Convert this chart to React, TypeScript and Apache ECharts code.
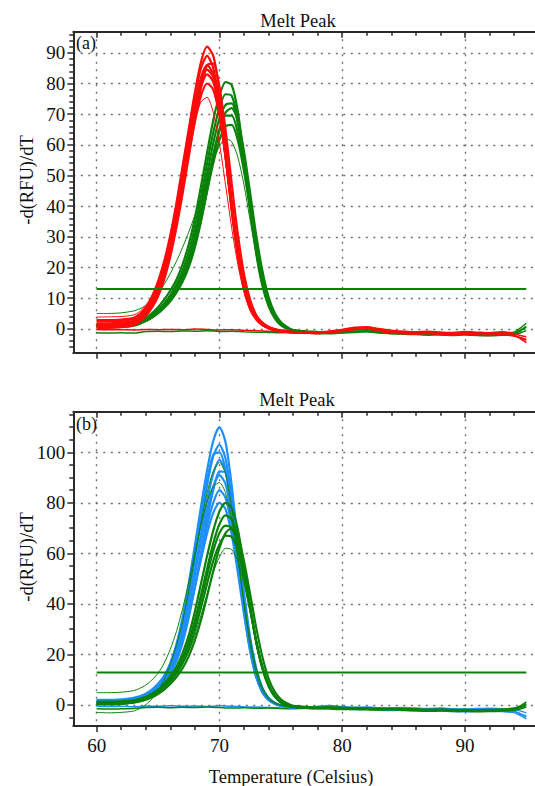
import React, { useEffect, useRef } from "react";
import * as echarts from "echarts";

// ---------- data ----------
const X_PEAK = [60, 61, 62, 63, 63.5, 64, 64.5, 65, 65.5, 66, 66.5, 67, 67.5, 68, 68.5, 69, 69.5, 70, 70.5, 71, 71.5, 72, 72.5, 73, 73.5, 74, 74.5, 75, 75.5, 76, 77];
const X_TAIL = [76, 77, 78, 79, 80, 81, 82, 83, 84, 85, 86, 87, 88, 89, 90, 91, 92, 93, 94, 94.5, 95];
const X_FLAT = [60, 61, 62, 63, 64, 65, 66, 67, 68, 69, 70, 71, 72, 73, 74, 75, 76, 77, 78, 79, 80, 81, 82, 83, 84, 85, 86, 87, 88, 89, 90, 91, 92, 93, 94, 95];
const X_THRESH = [60, 95];

const X_TICKS = [60, 70, 80, 90];
const Y_TICKS_A = [0, 10, 20, 30, 40, 50, 60, 70, 80, 90];
const Y_TICKS_B = [0, 20, 40, 60, 80, 100];

// panel (a) red peaks
const A_RED_1 = [2.5, 2.5, 2.6, 3.2, 4.5, 7, 10.5, 15.5, 22, 30.5, 41, 53, 65, 77, 87, 92, 89, 78, 61, 42, 26, 14, 7, 3.5, 1.5, 0.5, -0.2, -0.6, -0.8, -1, -1.1];
const A_RED_2 = [1.8, 1.8, 2, 2.6, 3.8, 6, 9.5, 14.5, 21, 29.5, 40, 52, 64, 76, 85, 89, 85, 74, 57, 39, 24, 13, 6.5, 3, 1.2, 0.3, -0.3, -0.7, -0.9, -1.1, -1.2];
const A_RED_3 = [1.2, 1.2, 1.4, 2, 3.2, 5.3, 8.5, 13, 19.5, 28, 38, 50, 62, 73, 82, 86, 83, 72, 56, 38.5, 24, 13.5, 7, 3.2, 1.3, 0.3, -0.4, -0.8, -1, -1.1, -1.3];
const A_RED_4 = [2.8, 2.8, 3, 3.6, 4.8, 6.8, 10, 14.5, 20.5, 28.5, 38, 49, 60, 70.5, 79, 83, 80.5, 71, 56.5, 40, 25.5, 14.5, 7.5, 3.5, 1.5, 0.4, -0.3, -0.7, -1, -1.2, -1.3];
const A_RED_5 = [0.8, 0.8, 1, 1.6, 2.8, 4.8, 7.8, 12, 18, 26, 35.5, 46, 57, 67.5, 76, 80, 78, 69.5, 56, 40.5, 26.5, 15.5, 8, 4, 1.8, 0.6, -0.2, -0.6, -0.9, -1.1, -1.2];
const A_RED_6 = [3.8, 3.9, 4, 4.5, 5.6, 7.6, 10.5, 15, 21, 28.5, 37.5, 47.5, 58, 67.5, 74, 75.5, 70.5, 60.5, 47, 33, 21, 12, 6, 2.8, 1, 0, -0.5, -0.8, -1, -1.1, -1.2];
const A_RED_7 = [0.3, 0.3, 0.5, 1.1, 2.3, 4.3, 7.3, 11.8, 18, 26.5, 36.5, 48, 60, 71, 80, 84.5, 82, 72, 56.5, 39.5, 25, 14, 7, 3.3, 1.3, 0.2, -0.5, -0.9, -1.1, -1.2, -1.4];
const A_RED_8 = [1.5, 1.5, 1.6, 2, 2.8, 4.3, 6.8, 10.5, 16, 23.5, 33, 44, 56, 68, 78.5, 86, 86.5, 79, 65, 47.5, 31, 18, 9.5, 4.5, 2, 0.7, -0.1, -0.6, -0.9, -1.1, -1.2];

// panel (a) green peaks
const A_GRN_1 = [1.5, 1.5, 1.6, 2, 2.6, 3.6, 5, 7, 9.5, 12.5, 16, 21, 27.5, 36, 46.5, 57.5, 68, 76, 80.5, 79.5, 71, 56, 39, 24.5, 14, 7.5, 3.5, 1.2, 0, -0.7, -1];
const A_GRN_2 = [0.8, 0.8, 0.9, 1.3, 1.9, 2.9, 4.2, 6, 8.3, 11, 14.5, 19, 25, 33, 43, 54, 64, 72, 76.5, 76, 68.5, 55, 39.5, 25.5, 15, 8, 4, 1.5, 0.2, -0.6, -1];
const A_GRN_3 = [1.2, 1.2, 1.3, 1.7, 2.3, 3.2, 4.4, 6, 8, 10.5, 13.5, 17.5, 23, 30.5, 40, 50.5, 60.5, 68.5, 73, 73.5, 67, 55, 40.5, 27, 16.5, 9, 4.5, 1.8, 0.4, -0.5, -0.9];
const A_GRN_4 = [0.5, 0.5, 0.6, 1, 1.6, 2.5, 3.7, 5.3, 7.3, 9.8, 12.8, 16.5, 21.5, 28.5, 37.5, 47.5, 57, 65, 69.5, 69.5, 64, 53, 40, 27, 16.5, 9, 4.5, 1.8, 0.3, -0.6, -1];
const A_GRN_5 = [1, 1, 1.1, 1.5, 2.1, 3, 4.2, 5.8, 7.8, 10.2, 13, 16.5, 21, 27.5, 35.5, 45, 54, 61.5, 66, 66.5, 61.5, 51.5, 39, 26.5, 16.5, 9, 4.5, 1.8, 0.3, -0.5, -1];
const A_GRN_6 = [5, 5, 5.2, 5.8, 6.5, 7.6, 9.2, 11.5, 14.5, 18, 22, 26.5, 31.5, 37, 43, 49, 55, 59.5, 62, 61, 56, 47, 35.5, 24, 14.5, 8, 4, 1.5, 0.2, -0.5, -0.9];
const A_GRN_7 = [0.9, 0.9, 1, 1.3, 1.8, 2.6, 3.6, 5, 6.8, 9, 11.8, 15.3, 20, 26.5, 35, 45, 55.5, 64.5, 70.5, 72, 68, 58, 44.5, 30.5, 19, 10.5, 5.2, 2.2, 0.6, -0.4, -0.9];

// panel (a) tails and flat lines
const A_RED_TAIL_1 = [-1, -1.1, -1.3, -1.0, -0.6, 0.2, 0.4, -0.3, -0.9, -1.2, -1.4, -1.2, -1.5, -1.6, -1.3, -1.5, -1.7, -1.4, -2.0, -3.2, -4.5];
const A_RED_TAIL_2 = [-1.2, -1.4, -1.6, -1.2, -0.9, -0.3, 0.0, -0.8, -1.3, -1.6, -1.8, -1.5, -1.9, -2.0, -1.7, -2.0, -2.2, -1.9, -2.4, -2.8, -3.5];
const A_RED_TAIL_3 = [-0.8, -0.9, -1.0, -0.7, -0.2, 0.5, 0.7, 0.1, -0.5, -0.8, -1.0, -0.8, -1.1, -1.2, -0.9, -1.1, -1.3, -1.0, -1.5, -2.2, -2.6];
const A_GRN_TAIL_1 = [-0.9, -1.0, -1.2, -1.3, -1.0, -0.8, -0.6, -1.0, -1.2, -1.4, -1.5, -1.7, -1.6, -1.8, -1.6, -1.8, -1.9, -1.7, -1.6, -0.8, 0.5];
const A_GRN_TAIL_2 = [-1.2, -1.4, -1.5, -1.6, -1.4, -1.2, -1.0, -1.4, -1.6, -1.8, -1.9, -2.1, -2.0, -2.2, -2.0, -2.2, -2.3, -2.1, -2.0, -1.4, -0.6];
const A_GRN_TAIL_3 = [-0.6, -0.7, -0.9, -1.0, -0.7, -0.4, -0.3, -0.7, -0.9, -1.1, -1.2, -1.3, -1.2, -1.4, -1.2, -1.3, -1.5, -1.3, -1.1, 0.2, 1.8];
const A_RED_FLAT = [-0.2, -0.3, -0.3, -0.4, -0.2, -0.3, -0.2, -0.3, -0.1, -0.2, -0.4, -0.3, -0.5, -0.6, -0.8, -0.9, -1.0, -1.1, -1.2, -0.9, -0.5, 0.2, 0.3, -0.4, -1.0, -1.2, -1.4, -1.3, -1.5, -1.6, -1.4, -1.6, -1.8, -1.5, -2.2, -3.8];
const A_GRN_FLAT = [-1.3, -1.4, -1.3, -1.4, -0.9, -0.8, -0.9, -0.7, -0.8, -0.6, -0.9, -0.8, -1.0, -1.1, -1.2, -1.3, -1.2, -1.4, -1.5, -1.4, -1.2, -1.0, -0.9, -1.3, -1.5, -1.6, -1.8, -1.7, -1.9, -2.0, -1.8, -1.9, -2.1, -1.9, -1.5, 0.8];
const A_THRESH = [13, 13];

// panel (b) blue peaks
const B_BLU_1 = [2, 2, 2.2, 2.8, 3.4, 4.4, 6, 8.3, 11.5, 16.5, 24, 34.5, 48, 63, 78.5, 93, 104.5, 110, 104, 87, 64, 42, 24, 12, 5.5, 2.2, 0.5, -0.3, -0.7, -0.9, -1.1];
const B_BLU_2 = [1.2, 1.2, 1.4, 2, 2.7, 3.7, 5.2, 7.3, 10.2, 14.5, 21, 30.5, 43, 57.5, 72.5, 87, 98.5, 103, 97.5, 82, 61, 40.5, 23.5, 12, 5.5, 2.2, 0.6, -0.3, -0.7, -0.9, -1.1];
const B_BLU_3 = [0.5, 0.5, 0.7, 1.3, 2, 3, 4.4, 6.4, 9.2, 13.2, 19.2, 28, 39.5, 53, 67.5, 81, 91.5, 97, 92.5, 78.5, 59, 39.5, 23, 12, 5.5, 2.2, 0.6, -0.3, -0.7, -1, -1.2];
const B_BLU_4 = [1.6, 1.6, 1.8, 2.3, 3, 4, 5.4, 7.4, 10.2, 14.2, 20, 28.5, 39, 51.5, 64.5, 77, 86.5, 91, 87.5, 75, 57.5, 39, 23, 12, 5.5, 2.2, 0.6, -0.3, -0.7, -0.9, -1.1];
const B_BLU_5 = [0.2, 0.2, 0.4, 1, 1.6, 2.6, 4, 5.9, 8.6, 12.5, 18, 25.5, 35.5, 47, 59.5, 71, 80, 85, 82, 71, 55, 37.5, 22.5, 11.5, 5.2, 2, 0.5, -0.4, -0.8, -1, -1.2];
const B_BLU_6 = [1, 1, 1.2, 1.7, 2.3, 3.3, 4.7, 6.6, 9.3, 13.2, 18.5, 26, 35.5, 46.5, 57.5, 68, 76, 80, 77.5, 67.5, 52.5, 36, 21.5, 11, 5, 1.9, 0.4, -0.4, -0.8, -1, -1.2];
const B_BLU_7 = [1.5, 1.5, 1.7, 2.3, 3.1, 4.2, 5.8, 8, 11.2, 15.8, 22.5, 32.5, 45.5, 60, 75, 89, 99, 100, 93, 77, 57, 37.5, 21.5, 11, 5, 2, 0.5, -0.4, -0.8, -1, -1.2];
const B_BLU_8 = [0.8, 0.8, 1, 1.5, 2.1, 3, 4.2, 6, 8.5, 12, 17.2, 24.5, 34.5, 46.5, 60, 73.5, 85, 92.5, 92, 81.5, 64, 44.5, 27, 14.5, 6.8, 2.8, 0.8, -0.2, -0.7, -1, -1.2];

// panel (b) green peaks
const B_GRN_1 = [0.8, 0.8, 0.9, 1.4, 2, 3, 4.3, 6, 8.3, 11.3, 15, 20.5, 27.5, 37, 48, 59, 69, 76.5, 80, 78, 69.5, 55.5, 39.5, 25, 14.5, 7.5, 3.3, 1, -0.1, -0.7, -1.1];
const B_GRN_2 = [0.3, 0.3, 0.4, 0.9, 1.5, 2.4, 3.6, 5.2, 7.3, 10, 13.5, 18.5, 25, 33.5, 43.5, 54, 64, 71.5, 75, 73.5, 66, 53.5, 39, 25, 14.5, 7.5, 3.3, 1, -0.1, -0.7, -1.1];
const B_GRN_3 = [1.3, 1.3, 1.4, 1.8, 2.4, 3.2, 4.3, 5.8, 7.8, 10.3, 13.5, 18, 24, 32, 41.5, 51.5, 61, 68, 71, 70, 63.5, 52, 38.5, 25, 15, 8, 3.6, 1.1, -0.1, -0.8, -1.2];
const B_GRN_4 = [0.6, 0.6, 0.7, 1.1, 1.7, 2.5, 3.6, 5, 6.9, 9.3, 12.4, 16.5, 22, 29.5, 38.5, 48, 57, 63.5, 67, 66.5, 61, 50.5, 38, 25, 15, 8, 3.6, 1.1, -0.1, -0.8, -1.2];
const B_GRN_5 = [0.9, 0.9, 1, 1.4, 2, 2.8, 3.8, 5.2, 7, 9.3, 12.2, 16, 21, 27.5, 35.5, 44, 52.5, 58.5, 62, 61.5, 57, 48, 36.5, 24.5, 15, 8, 3.6, 1.1, -0.1, -0.8, -1.2];
const B_GRN_6 = [4.8, 4.8, 5, 5.6, 6.5, 7.8, 9.8, 12.5, 16.5, 22, 29, 38, 48.5, 60, 71, 80.5, 86.5, 88, 84, 73.5, 58, 41, 26, 14.5, 7, 3, 1, 0, -0.5, -0.8, -1];
const B_GRN_7 = [-3, -3.2, -3, -2.5, -1.5, 0, 2.3, 5.5, 10, 16, 23.5, 33, 45, 58.5, 72, 84, 92.5, 96, 91.5, 78, 59, 40, 24, 12.5, 5.8, 2.3, 0.6, -0.3, -0.7, -1, -1.2];
const B_GRN_8 = [0.4, 0.4, 0.5, 0.8, 1.3, 2, 3, 4.3, 6, 8.2, 11, 14.5, 19.2, 25.5, 33.5, 43, 53, 62, 68, 70, 66.5, 57, 44, 30.5, 19, 10.5, 5.2, 2.2, 0.6, -0.4, -0.9];

// panel (b) tails and flat lines
const B_BLU_TAIL_1 = [-1.0, -1.2, -1.1, -0.9, -1.3, -1.5, -1.4, -1.7, -1.8, -1.6, -1.9, -2.0, -1.8, -2.1, -2.3, -2.0, -1.9, -2.2, -2.6, -3.6, -4.8];
const B_BLU_TAIL_2 = [-0.6, -0.8, -0.6, -0.3, -0.7, -1.0, -0.9, -1.2, -1.3, -1.1, -1.3, -1.5, -1.3, -1.6, -1.7, -1.5, -1.4, -1.6, -1.9, -2.4, -3.2];
const B_BLU_TAIL_3 = [-1.3, -1.5, -1.6, -1.3, -1.6, -1.9, -1.8, -2.1, -2.3, -2.1, -2.4, -2.5, -2.3, -2.6, -2.8, -2.6, -2.4, -2.7, -3.1, -4.2, -5.6];
const B_GRN_TAIL_1 = [-0.8, -1.0, -1.2, -1.1, -1.4, -1.5, -1.6, -1.8, -1.7, -1.9, -2.0, -2.2, -2.1, -2.3, -2.2, -2.4, -2.3, -2.1, -1.8, -1.2, -0.2];
const B_GRN_TAIL_2 = [-1.1, -1.3, -1.5, -1.4, -1.7, -1.9, -2.0, -2.1, -2.0, -2.3, -2.4, -2.6, -2.5, -2.7, -2.6, -2.8, -2.7, -2.5, -2.2, -1.7, -0.9];
const B_GRN_TAIL_3 = [-0.5, -0.7, -0.9, -0.8, -1.0, -1.1, -1.2, -1.4, -1.3, -1.5, -1.6, -1.8, -1.7, -1.9, -1.8, -2.0, -1.9, -1.7, -1.3, -0.4, 1.2];
const B_BLU_FLAT = [-0.6, -0.7, -0.6, -0.8, -0.5, -0.6, -0.4, -0.6, -0.5, -0.7, -0.4, -0.6, -0.8, -0.9, -1.1, -1.3, -1.4, -1.2, -1.0, -0.8, -1.2, -1.5, -1.4, -1.6, -1.8, -1.7, -1.9, -2.0, -1.8, -2.1, -2.2, -2.0, -1.8, -2.1, -2.6, -4.5];
const B_GRN_FLAT = [-1.6, -1.7, -1.6, -1.5, -1.1, -1.0, -1.2, -1.0, -1.1, -0.9, -1.1, -1.3, -1.2, -1.4, -1.3, -1.5, -1.6, -1.4, -1.5, -1.7, -1.9, -1.8, -1.6, -1.9, -2.0, -2.2, -2.1, -2.4, -2.3, -2.5, -2.3, -2.4, -2.2, -2.0, -1.6, 0.4];
const B_THRESH = [12.8, 12.8];

// ---------- styling ----------
const FONT = "Liberation Serif";
const RED = "#ff0a0a";
const GREEN = "#0a820a";
const BLUE = "#1e8fff";
const AXIS = "#2a2a2a";
const DOTS = { color: "#6f6f6f", width: 1.4, type: [2, 5.5] as number[] };
const MAIN_W = 2.2;

function line(xs: number[], ys: number[], panel: number, color: string, width: number) {
  return {
    type: "line",
    xAxisIndex: panel * 2,
    yAxisIndex: panel,
    data: xs.map((x, i) => [x, ys[i]]),
    symbol: "none",
    showSymbol: false,
    smooth: 0.25,
    silent: true,
    animation: false,
    lineStyle: { color, width },
    itemStyle: { color },
  };
}

function xAxisDef(grid: number, pos: "bottom" | "top", labels: boolean) {
  return {
    type: "value",
    gridIndex: grid,
    position: pos,
    min: 58.1,
    max: 97.5,
    minInterval: 10,
    maxInterval: 10,
    axisLine: { show: true, onZero: false, lineStyle: { color: AXIS, width: 2 } },
    axisTick: { show: true, inside: pos === "top", length: 6, customValues: X_TICKS, lineStyle: { color: AXIS, width: 1.5 } },
    minorTick: { show: true, splitNumber: 5, length: 4, lineStyle: { color: AXIS, width: 1.5 } },
    axisLabel: {
      show: labels,
      customValues: X_TICKS,
      margin: 10,
      fontSize: 19,
      fontFamily: FONT,
      color: "#111",
      formatter: (v: number) => (Math.abs(v % 10) < 1e-6 ? String(v) : ""),
    },
    splitLine: { show: pos === "bottom", lineStyle: DOTS },
  };
}

function yAxisDef(grid: number, min: number, max: number, step: number, minorSplit: number, ticks: number[]) {
  return {
    type: "value",
    gridIndex: grid,
    position: "left",
    min,
    max,
    minInterval: step,
    maxInterval: step,
    axisLine: { show: true, onZero: false, lineStyle: { color: AXIS, width: 2 } },
    axisTick: { show: true, inside: false, length: 6, customValues: ticks, lineStyle: { color: AXIS, width: 1.5 } },
    minorTick: { show: true, splitNumber: minorSplit, length: 4, lineStyle: { color: AXIS, width: 1.5 } },
    axisLabel: {
      show: true,
      customValues: ticks,
      margin: 8,
      fontSize: 19,
      fontFamily: FONT,
      color: "#111",
      formatter: (v: number) => (Math.abs(v % step) < 1e-6 ? String(v) : ""),
    },
    splitLine: { show: true, lineStyle: DOTS },
  };
}

function txt(text: string, x: number, y: number, size: number, align: string, rotation = 0) {
  return {
    type: "text",
    x,
    y,
    rotation,
    silent: true,
    z: 100,
    style: {
      text,
      fontSize: size,
      fontFamily: FONT,
      fill: "#111",
      align,
      textAlign: align,
      verticalAlign: "middle",
      textVerticalAlign: "middle",
    },
  };
}

export default function App() {
  const ref = useRef<HTMLDivElement>(null);

  useEffect(() => {
    if (!ref.current) return;
    const chart = echarts.init(ref.current, undefined, { renderer: "svg" });

    const aRed = [A_RED_1, A_RED_2, A_RED_3, A_RED_4, A_RED_5, A_RED_7, A_RED_8];
    const aGreen = [A_GRN_1, A_GRN_2, A_GRN_3, A_GRN_4, A_GRN_5, A_GRN_7];
    const bBlue = [B_BLU_1, B_BLU_2, B_BLU_3, B_BLU_4, B_BLU_5, B_BLU_6, B_BLU_7, B_BLU_8];
    const bGreen = [B_GRN_1, B_GRN_2, B_GRN_3, B_GRN_4, B_GRN_8];

    const series: any[] = [];
    // panel a
    series.push(line(X_FLAT, A_RED_FLAT, 0, RED, 1.5));
    series.push(line(X_FLAT, A_GRN_FLAT, 0, GREEN, 1.5));
    [A_GRN_TAIL_1, A_GRN_TAIL_2, A_GRN_TAIL_3].forEach((d) => series.push(line(X_TAIL, d, 0, GREEN, 1.5)));
    [A_RED_TAIL_1, A_RED_TAIL_2, A_RED_TAIL_3].forEach((d) => series.push(line(X_TAIL, d, 0, RED, 1.5)));
    aGreen.forEach((d) => series.push(line(X_PEAK, d, 0, GREEN, MAIN_W)));
    series.push(line(X_PEAK, A_GRN_6, 0, GREEN, 1));
    aRed.forEach((d) => series.push(line(X_PEAK, d, 0, RED, MAIN_W)));
    series.push(line(X_PEAK, A_RED_6, 0, RED, 1));
    series.push(line(X_THRESH, A_THRESH, 0, GREEN, 2));
    // panel b
    series.push(line(X_FLAT, B_BLU_FLAT, 1, BLUE, 1.5));
    series.push(line(X_FLAT, B_GRN_FLAT, 1, GREEN, 1.5));
    [B_BLU_TAIL_1, B_BLU_TAIL_2, B_BLU_TAIL_3].forEach((d) => series.push(line(X_TAIL, d, 1, BLUE, 1.5)));
    [B_GRN_TAIL_1, B_GRN_TAIL_2, B_GRN_TAIL_3].forEach((d) => series.push(line(X_TAIL, d, 1, GREEN, 1.5)));
    bBlue.forEach((d) => series.push(line(X_PEAK, d, 1, BLUE, MAIN_W)));
    bGreen.forEach((d) => series.push(line(X_PEAK, d, 1, GREEN, MAIN_W)));
    [B_GRN_5, B_GRN_6, B_GRN_7].forEach((d) => series.push(line(X_PEAK, d, 1, GREEN, 1)));
    series.push(line(X_THRESH, B_THRESH, 1, GREEN, 2));

    chart.setOption({
      animation: false,
      backgroundColor: "#ffffff",
      textStyle: { fontFamily: FONT },
      grid: [
        { left: 73.3, top: 31.7, right: -22, height: 321, outerBoundsMode: "none", containLabel: false },
        { left: 73.3, top: 411.7, right: -22, height: 314.3, outerBoundsMode: "none", containLabel: false },
      ],
      xAxis: [
        xAxisDef(0, "bottom", false),
        xAxisDef(0, "top", false),
        xAxisDef(1, "bottom", true),
        xAxisDef(1, "top", false),
      ],
      yAxis: [
        yAxisDef(0, -7.8, 96.9, 10, 5, Y_TICKS_A),
        yAxisDef(1, -8.4, 116.1, 20, 4, Y_TICKS_B),
      ],
      graphic: [
        txt("Melt Peak", 298, 20.5, 18.5, "center"),
        txt("Melt Peak", 297, 400, 18.5, "center"),
        txt("(a)", 76, 43, 18, "left"),
        txt("(b)", 76, 424, 18, "left"),
        txt("-d(RFU)/dT", 27, 180, 18.5, "center", Math.PI / 2),
        txt("-d(RFU)/dT", 27, 557, 18.5, "center", Math.PI / 2),
        txt("Temperature (Celsius)", 291, 777, 18.5, "center"),
      ],
      series,
    });

    return () => chart.dispose();
  }, []);

  return (
    <div
      ref={ref}
      style={{ position: "fixed", left: 0, top: 0, width: 535, height: 786, background: "#fff" }}
    />
  );
}
